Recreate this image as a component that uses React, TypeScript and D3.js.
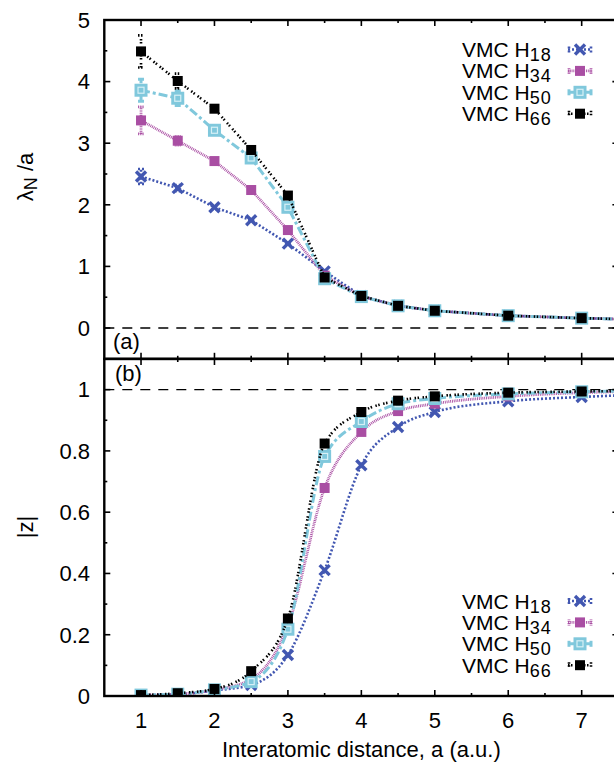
import React from 'react';
import * as d3 from 'd3';

const distances = [1, 1.5, 2, 2.5, 3, 3.5, 4, 4.5, 5, 6, 7, 8];

const lambdaH18 = [2.46, 2.27, 1.96, 1.75, 1.37, 0.92, 0.52, 0.36, 0.28, 0.2, 0.16, 0.13];
const lambdaH34 = [3.37, 3.04, 2.71, 2.24, 1.59, 0.85, 0.51, 0.36, 0.28, 0.2, 0.16, 0.13];
const lambdaH50 = [3.86, 3.73, 3.21, 2.76, 1.96, 0.8, 0.51, 0.36, 0.28, 0.2, 0.16, 0.13];
const lambdaH66 = [4.49, 4.01, 3.56, 2.89, 2.15, 0.82, 0.52, 0.36, 0.28, 0.2, 0.16, 0.13];

const lambdaErrH18 = [0.12, 0.05, 0.03, 0.02, 0.02, 0, 0, 0, 0, 0, 0, 0];
const lambdaErrH34 = [0.22, 0.07, 0.03, 0.02, 0.02, 0, 0, 0, 0, 0, 0, 0];
const lambdaErrH50 = [0.18, 0.12, 0.03, 0.02, 0.02, 0, 0, 0, 0, 0, 0, 0];
const lambdaErrH66 = [0.26, 0.12, 0.03, 0.02, 0.02, 0, 0, 0, 0, 0, 0, 0];

const zH18 = [0.003, 0.005, 0.018, 0.036, 0.134, 0.411, 0.753, 0.878, 0.927, 0.962, 0.976, 0.985];
const zH34 = [0.003, 0.006, 0.02, 0.055, 0.23, 0.679, 0.862, 0.93, 0.954, 0.978, 0.99, 0.995];
const zH50 = [0.003, 0.006, 0.02, 0.047, 0.218, 0.782, 0.896, 0.954, 0.971, 0.986, 0.993, 0.996];
const zH66 = [0.003, 0.009, 0.023, 0.081, 0.253, 0.824, 0.927, 0.964, 0.978, 0.99, 0.994, 0.997];

const seriesSubscripts = ['18', '34', '50', '66'];
const xTickLabels = [1, 2, 3, 4, 5, 6, 7];
const lambdaTickLabels = [0, 1, 2, 3, 4, 5];
const zTickLabels = [0, 0.2, 0.4, 0.6, 0.8, 1];

const FONT = "'Liberation Sans', Arial, Helvetica, sans-serif";
const W = 614;
const H = 763;

type Style = { color: string; width: number; dash: string; marker: 'cross' | 'fsq' | 'osq' | 'bsq' };
const styles: Style[] = [
  { color: '#4257b1', width: 2.6, dash: '2 2', marker: 'cross' },
  { color: '#a94ea3', width: 2.8, dash: '0.9 0.9', marker: 'fsq' },
  { color: '#80c8dc', width: 3, dash: '9 3 3 3', marker: 'osq' },
  { color: '#000000', width: 2.6, dash: '1.5 1.5 1.5 3.5', marker: 'bsq' },
];

const x = d3.scaleLinear().domain([0.5, 7.5]).range([104.3, 618.4]);
const yTop = d3.scaleLinear().domain([-0.5, 5]).range([358.8, 20]);
const yBot = d3.scaleLinear().domain([0, 1.1]).range([696, 359]);

function Marker({ kind, cx, cy, color }: { kind: Style['marker']; cx: number; cy: number; color: string }) {
  if (kind === 'cross') {
    const r = 5;
    return (
      <g stroke={color} strokeWidth={3.4} strokeLinecap="butt">
        <line x1={cx - r} y1={cy - r} x2={cx + r} y2={cy + r} />
        <line x1={cx - r} y1={cy + r} x2={cx + r} y2={cy - r} />
      </g>
    );
  }
  if (kind === 'osq') {
    const s = 13;
    return (
      <g>
        <rect x={cx - s / 2} y={cy - s / 2} width={s} height={s} fill={color} />
        <rect x={cx - 3} y={cy - 3} width={6} height={6} fill="none" stroke="#d6f0f6" strokeWidth={1.2} />
      </g>
    );
  }
  const s = 10;
  return <rect x={cx - s / 2} y={cy - s / 2} width={s} height={s} fill={color} />;
}

function Panel({
  y,
  series,
  errs,
  curve,
  ref0,
  majorY,
  minorY,
  labelsY,
  fmt,
  clipId,
  showXLabels,
}: {
  y: d3.ScaleLinear<number, number>;
  series: number[][];
  errs: number[][] | null;
  curve: d3.CurveFactory;
  ref0: number;
  majorY: number[];
  minorY: number[];
  labelsY: number[];
  fmt: (v: number) => string;
  clipId: string;
  showXLabels: boolean;
}) {
  const [x0, x1] = x.range();
  const [yb, yt] = y.range();
  const majorX = d3.range(1, 8, 1);
  const minorX = d3.range(1.5, 7.5, 1);
  const line = (vals: number[]) =>
    d3
      .line<number>()
      .x((_, i) => x(distances[i]))
      .y((v) => y(v))
      .curve(curve)(vals) || '';
  return (
    <g>
      <defs>
        <clipPath id={clipId}>
          <rect x={x0} y={yt} width={x1 - x0} height={yb - yt} />
        </clipPath>
      </defs>
      <line x1={x0} x2={x1} y1={y(ref0)} y2={y(ref0)} stroke="#000" strokeWidth={1.4} strokeDasharray="10 8" />
      <g clipPath={`url(#${clipId})`}>
        {series.map((vals, si) => (
          <g key={si}>
            <path d={line(vals)} fill="none" stroke={styles[si].color} strokeWidth={styles[si].width} strokeDasharray={styles[si].dash} />
            {errs &&
              errs[si].map((e, i) =>
                e > 0 ? (
                  <g key={i} stroke={styles[si].color} strokeWidth={styles[si].width} strokeDasharray={styles[si].dash}>
                    <line x1={x(distances[i])} x2={x(distances[i])} y1={y(vals[i] - e)} y2={y(vals[i] + e)} />
                    <line x1={x(distances[i]) - 3} x2={x(distances[i]) + 3} y1={y(vals[i] - e)} y2={y(vals[i] - e)} />
                    <line x1={x(distances[i]) - 3} x2={x(distances[i]) + 3} y1={y(vals[i] + e)} y2={y(vals[i] + e)} />
                  </g>
                ) : null
              )}
            {vals.map((v, i) => (
              <Marker key={i} kind={styles[si].marker} cx={x(distances[i])} cy={y(v)} color={styles[si].color} />
            ))}
          </g>
        ))}
      </g>
      <g stroke="#000" strokeWidth={1.6}>
        {majorX.map((t) => (
          <g key={'mx' + t}>
            <line x1={x(t)} x2={x(t)} y1={yb} y2={yb - 6} />
            <line x1={x(t)} x2={x(t)} y1={yt} y2={yt + 6} />
          </g>
        ))}
        {minorX.map((t) => (
          <g key={'nx' + t}>
            <line x1={x(t)} x2={x(t)} y1={yb} y2={yb - 3} />
            <line x1={x(t)} x2={x(t)} y1={yt} y2={yt + 3} />
          </g>
        ))}
        {majorY.map((t) => (
          <g key={'my' + t}>
            <line x1={x0} x2={x0 + 6} y1={y(t)} y2={y(t)} />
            <line x1={x1} x2={x1 - 6} y1={y(t)} y2={y(t)} />
          </g>
        ))}
        {minorY.map((t) => (
          <g key={'ny' + t}>
            <line x1={x0} x2={x0 + 3} y1={y(t)} y2={y(t)} />
            <line x1={x1} x2={x1 - 3} y1={y(t)} y2={y(t)} />
          </g>
        ))}
      </g>
      <rect x={x0} y={yt} width={x1 - x0} height={yb - yt} fill="none" stroke="#000" strokeWidth={2.4} />
      <g fontFamily={FONT} fontSize={22} fill="#000">
        {labelsY.map((t) => (
          <text key={'ly' + t} x={90} y={y(t) + 7.8} textAnchor="end">
            {fmt(t)}
          </text>
        ))}
        {showXLabels &&
          xTickLabels.map((t) => (
            <text key={'lx' + t} x={x(t)} y={727.5} textAnchor="middle">
              {t}
            </text>
          ))}
      </g>
    </g>
  );
}

function Legend({ baseline0 }: { baseline0: number }) {
  const step = 21.4;
  return (
    <g fontFamily={FONT} fontSize={21} fill="#000">
      {seriesSubscripts.map((sub, i) => {
        const b = baseline0 + i * step;
        const cy = b - 7.5;
        const st = styles[i];
        return (
          <g key={sub}>
            <text x={462} y={b}>
              VMC H
              <tspan dy={4} fontSize={18} letterSpacing={1}>
                {sub}
              </tspan>
            </text>
            <g stroke={st.color} strokeWidth={st.width} strokeDasharray={st.dash}>
              <line x1={568} x2={592} y1={cy} y2={cy} />
              <line x1={569} x2={569} y1={cy - 3} y2={cy + 3} />
              <line x1={591} x2={591} y1={cy - 3} y2={cy + 3} />
            </g>
            <Marker kind={st.marker} cx={580} cy={cy} color={st.color} />
          </g>
        );
      })}
    </g>
  );
}

export default function App() {
  const lambdaSeries = [lambdaH18, lambdaH34, lambdaH50, lambdaH66];
  const lambdaErrs = [lambdaErrH18, lambdaErrH34, lambdaErrH50, lambdaErrH66];
  const zSeries = [zH18, zH34, zH50, zH66];
  return (
    <svg width={W} height={H} style={{ position: 'absolute', left: 0, top: 0, background: '#fff' }}>
      <rect x={0} y={0} width={W} height={H} fill="#fff" />
      <Panel
        y={yTop}
        series={lambdaSeries}
        errs={lambdaErrs}
        curve={d3.curveLinear}
        ref0={0}
        majorY={d3.range(0, 5.01, 1)}
        minorY={d3.range(0.5, 5, 1)}
        labelsY={lambdaTickLabels}
        fmt={(v) => String(v)}
        clipId="clipTop"
        showXLabels={false}
      />
      <Panel
        y={yBot}
        series={zSeries}
        errs={null}
        curve={d3.curveMonotoneX}
        ref0={1}
        majorY={d3.range(0, 1.01, 0.2)}
        minorY={[0.1, 0.3, 0.5, 0.7, 0.9]}
        labelsY={zTickLabels}
        fmt={(v) => String(+v.toFixed(1))}
        clipId="clipBot"
        showXLabels={true}
      />
      <Legend baseline0={57} />
      <Legend baseline0={608.5} />
      <g fontFamily={FONT} fontSize={22} fill="#000">
        <text x={113} y={349}>(a)</text>
        <text x={115} y={380.5}>(b)</text>
        <text x={x(4)} y={757} textAnchor="middle">
          Interatomic distance, a (a.u.)
        </text>
        <text transform="translate(33,177) rotate(-90)" textAnchor="middle">
          λ<tspan dy={4} fontSize={18}>N</tspan>
          <tspan dy={-4}> /a</tspan>
        </text>
        <text transform="translate(33,527) rotate(-90)" textAnchor="middle">
          |z|
        </text>
      </g>
    </svg>
  );
}
